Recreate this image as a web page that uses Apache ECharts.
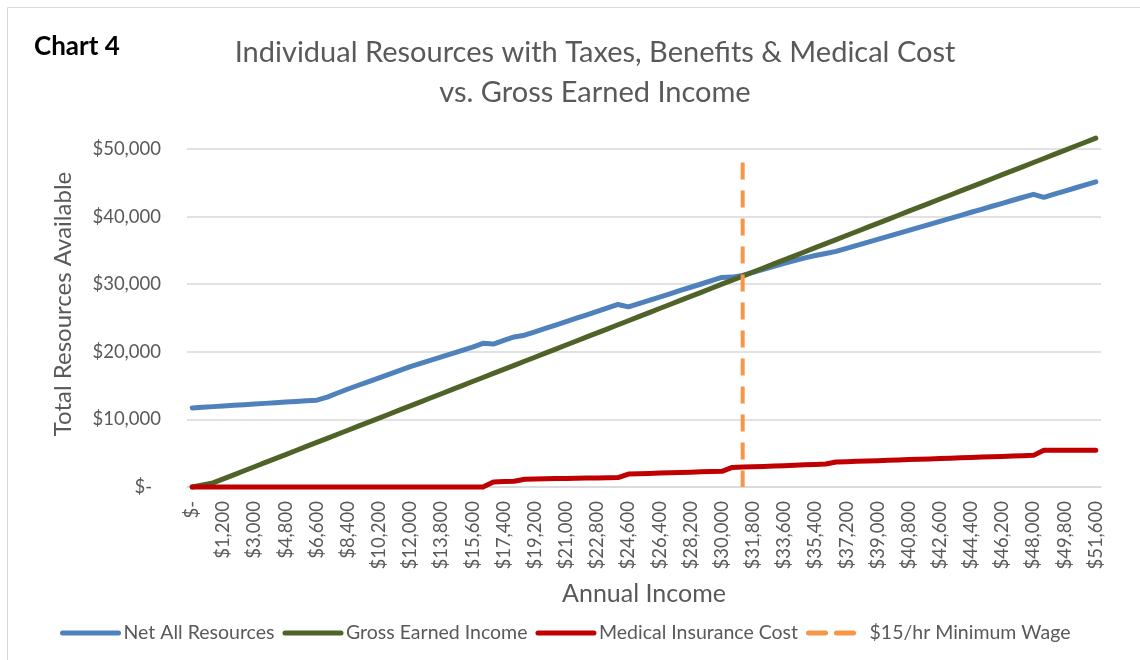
<!DOCTYPE html>
<html>
<head>
<meta charset="utf-8">
<script src="https://cdn.jsdelivr.net/npm/echarts@6/dist/echarts.min.js"></script>
<style>
  html, body { margin: 0; padding: 0; background: #fff; }
  #chart { width: 1140px; height: 660px; }
</style>
</head>
<body>
<div id="chart"></div>
<script>
// Annual gross earned income steps (x categories)
const incomeCategories = [
  0, 300, 600, 1200, 1800, 2400, 3000, 3600, 4200, 4800,
  5400, 6000, 6600, 7200, 7800, 8400, 9000, 9600, 10200, 10800,
  11400, 12000, 12600, 13200, 13800, 14400, 15000, 15600, 16200, 16800,
  17400, 18000, 18600, 19200, 19800, 20400, 21000, 21600, 22200, 22800,
  23400, 24000, 24600, 25200, 25800, 26400, 27000, 27600, 28200, 28800,
  29400, 30000, 30600, 31200, 31800, 32400, 33000, 33600, 34200, 34800,
  35400, 36000, 36600, 37200, 37800, 38400, 39000, 39600, 40200, 40800,
  41400, 42000, 42600, 43200, 43800, 44400, 45000, 45600, 46200, 46800,
  47400, 48000, 48600, 49200, 49800, 50400, 51000, 51600
];

// Net resources after taxes, benefits and medical cost
const netAllResources = [
  11700, 11800, 11890, 11990, 12080, 12180, 12270, 12370, 12460, 12560,
  12650, 12750, 12850, 13300, 13900, 14500, 15050, 15600, 16150, 16700,
  17250, 17800, 18300, 18780, 19260, 19740, 20220, 20700, 21250, 21150,
  21700, 22200, 22450, 22950, 23460, 23960, 24470, 24970, 25480, 25980,
  26490, 27000, 26650, 27130, 27620, 28100, 28580, 29070, 29550, 30030,
  30520, 31000, 31050, 31300, 31750, 32200, 32650, 33100, 33500, 33900,
  34250, 34550, 34850, 35300, 35740, 36190, 36630, 37080, 37520, 37970,
  38410, 38860, 39300, 39750, 40190, 40640, 41080, 41530, 41970, 42420,
  42860, 43300, 42850, 43310, 43770, 44230, 44690, 45150
];

// Gross earned income
const grossEarnedIncome = [
  0, 300, 600, 1200, 1800, 2400, 3000, 3600, 4200, 4800,
  5400, 6000, 6600, 7200, 7800, 8400, 9000, 9600, 10200, 10800,
  11400, 12000, 12600, 13200, 13800, 14400, 15000, 15600, 16200, 16800,
  17400, 18000, 18600, 19200, 19800, 20400, 21000, 21600, 22200, 22800,
  23400, 24000, 24600, 25200, 25800, 26400, 27000, 27600, 28200, 28800,
  29400, 30000, 30600, 31200, 31800, 32400, 33000, 33600, 34200, 34800,
  35400, 36000, 36600, 37200, 37800, 38400, 39000, 39600, 40200, 40800,
  41400, 42000, 42600, 43200, 43800, 44400, 45000, 45600, 46200, 46800,
  47400, 48000, 48600, 49200, 49800, 50400, 51000, 51600
];

// Medical insurance cost
const medicalInsuranceCost = [
  0, 0, 0, 0, 0, 0, 0, 0, 0, 0,
  0, 0, 0, 0, 0, 0, 0, 0, 0, 0,
  0, 0, 0, 0, 0, 0, 0, 0, 0, 750,
  800, 850, 1150, 1180, 1210, 1240, 1270, 1300, 1320, 1340,
  1360, 1390, 1920, 1970, 2010, 2060, 2100, 2150, 2190, 2240,
  2280, 2320, 2900, 2950, 3000, 3050, 3100, 3160, 3220, 3280,
  3340, 3400, 3700, 3750, 3800, 3850, 3900, 3960, 4010, 4060,
  4110, 4160, 4220, 4270, 4320, 4370, 4420, 4470, 4530, 4580,
  4630, 4680, 5450, 5450, 5450, 5450, 5450, 5450
];

// $15/hr full-time wage marker: income category and vertical extent (top to bottom)
const minimumWageIncome = 31200;
const minimumWageSpan = [48000, 0];

const FONT = 'Lato';
const GREY_TEXT = '#595959';

function money(v) {
  return '$' + Number(v).toLocaleString('en-US');
}

const wageIdx = incomeCategories.indexOf(minimumWageIncome);

const chart = echarts.init(document.getElementById('chart'), null, { renderer: 'canvas' });

chart.setOption({
  animation: false,
  backgroundColor: '#ffffff',
  textStyle: { fontFamily: FONT },
  title: [
    {
      text: 'Individual Resources with Taxes, Benefits & Medical Cost\nvs. Gross Earned Income',
      left: 590,
      top: 28,
      textAlign: 'center',
      textStyle: { fontFamily: FONT, fontSize: 29, fontWeight: 'normal', color: GREY_TEXT, lineHeight: 40 }
    },
    {
      text: 'Chart 4',
      left: 29,
      top: 29,
      textStyle: { fontFamily: FONT, fontSize: 26, fontWeight: 'bold', color: '#000000' }
    }
  ],
  graphic: [
    {
      type: 'rect',
      shape: { x: 7.5, y: 7.5, width: 1160, height: 700 },
      style: { fill: 'none', stroke: '#D9D9D9', lineWidth: 1 },
      silent: true
    }
  ],
  legend: {
    left: 55,
    top: 618,
    itemWidth: 56,
    itemHeight: 12,
    itemGap: 8,
    itemStyle: { opacity: 0 },
    lineStyle: { width: 5, cap: 'round' },
    textStyle: { fontFamily: FONT, fontSize: 19.5, color: GREY_TEXT },
    data: ['Net All Resources', 'Gross Earned Income', 'Medical Insurance Cost', '$15/hr Minimum Wage']
  },
  grid: { left: 187, right: 39, top: 149, bottom: 173 },
  xAxis: {
    type: 'category',
    data: incomeCategories,
    boundaryGap: true,
    name: 'Annual Income',
    nameLocation: 'middle',
    nameGap: 94,
    nameTextStyle: { fontFamily: FONT, fontSize: 25, color: GREY_TEXT },
    axisLine: { show: true, lineStyle: { color: '#D9D9D9', width: 1.5 } },
    axisTick: { show: false },
    axisLabel: {
      interval: 2,
      rotate: 90,
      margin: 14,
      fontFamily: FONT,
      fontSize: 18.5,
      color: GREY_TEXT,
      formatter: v => (Number(v) === 0 ? '$-' : money(v))
    },
    splitLine: { show: false }
  },
  yAxis: {
    type: 'value',
    min: 0,
    max: 50000,
    interval: 10000,
    name: 'Total Resources Available',
    nameLocation: 'middle',
    nameGap: 112,
    nameTextStyle: { fontFamily: FONT, fontSize: 24, color: GREY_TEXT, padding: [0, 0, 0, 28] },
    axisLine: { show: false },
    axisTick: { show: false },
    axisLabel: {
      margin: 26,
      fontFamily: FONT,
      fontSize: 18.5,
      color: GREY_TEXT,
      formatter: v => (v === 0 ? '{z|$-}' : money(v)),
      rich: { z: { fontFamily: FONT, fontSize: 18.5, color: GREY_TEXT, padding: [0, 9, 0, 0] } }
    },
    splitLine: { show: true, lineStyle: { color: '#D9D9D9', width: 1.5 } }
  },
  series: [
    {
      name: 'Net All Resources',
      type: 'line',
      data: netAllResources,
      symbol: 'none',
      clip: false,
      color: '#4F81BD',
      lineStyle: { color: '#4F81BD', width: 5, cap: 'round', join: 'round' }
    },
    {
      name: 'Gross Earned Income',
      type: 'line',
      data: grossEarnedIncome,
      symbol: 'none',
      clip: false,
      color: '#4F6228',
      lineStyle: { color: '#4F6228', width: 5, cap: 'round', join: 'round' }
    },
    {
      name: 'Medical Insurance Cost',
      type: 'line',
      data: medicalInsuranceCost,
      symbol: 'none',
      clip: false,
      color: '#C00000',
      lineStyle: { color: '#C00000', width: 5, cap: 'round', join: 'round' }
    },
    {
      name: '$15/hr Minimum Wage',
      type: 'line',
      data: minimumWageSpan.map(v => [wageIdx, v]),
      symbol: 'none',
      clip: false,
      color: '#F79646',
      lineStyle: { color: '#F79646', width: 4, type: [17, 11], cap: 'butt' }
    }
  ]
});
</script>
</body>
</html>
